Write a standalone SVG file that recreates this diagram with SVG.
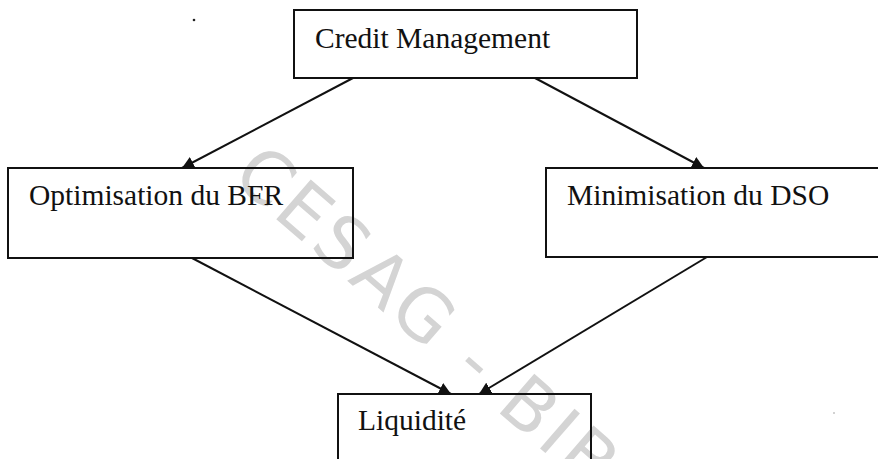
<svg xmlns="http://www.w3.org/2000/svg" width="878" height="459" viewBox="0 0 878 459">
  <style>
    .box { fill: none; stroke: #111; stroke-width: 2; }
    .label { font-family: "Liberation Serif", "Times New Roman", serif; font-size: 29.5px; fill: #111; }
    .link { stroke: #111; stroke-width: 2; fill: none; marker-end: url(#head); }
    .mark { font-family: "DejaVu Sans", "Liberation Sans", sans-serif; font-size: 72px; fill: #d4d4d4; }
  </style>
  <defs>
    <marker id="head" viewBox="0 0 10 10" refX="10" refY="5" markerWidth="12" markerHeight="12" markerUnits="userSpaceOnUse" orient="auto">
      <path d="M0,0 L10,5 L0,10 Z" fill="#111"/>
    </marker>
  </defs>
  <rect width="878" height="459" fill="#ffffff"/>

  <!-- diagonal stamp across the page -->
  <text class="mark" x="0" y="0" transform="translate(230,179) rotate(41)" letter-spacing="4">CESAG - BIB</text>

  <g id="credit-management">
    <rect class="box" x="294" y="10" width="343" height="68"/>
    <text class="label" x="315" y="48">Credit Management</text>
  </g>
  <g id="optimisation-bfr">
    <rect class="box" x="8" y="168" width="345" height="90"/>
    <text class="label" x="29" y="205">Optimisation du BFR</text>
  </g>
  <g id="minimisation-dso">
    <rect class="box" x="546" y="168" width="340" height="89"/>
    <text class="label" x="567" y="205">Minimisation du DSO</text>
  </g>
  <g id="liquidite">
    <rect class="box" x="338" y="394" width="253" height="80"/>
    <text class="label" x="358" y="430">Liquidité</text>
  </g>

  <g id="connectors">
    <line class="link" x1="353" y1="78" x2="182" y2="168"/>
    <line class="link" x1="535" y1="78" x2="704" y2="168"/>
    <line class="link" x1="192" y1="258" x2="451" y2="394"/>
    <line class="link" x1="707" y1="257" x2="479" y2="394"/>
  </g>

  <!-- specks -->
  <circle cx="194" cy="20" r="1.3" fill="#222"/>
  <circle cx="834" cy="413" r="0.8" fill="#999"/>
</svg>
